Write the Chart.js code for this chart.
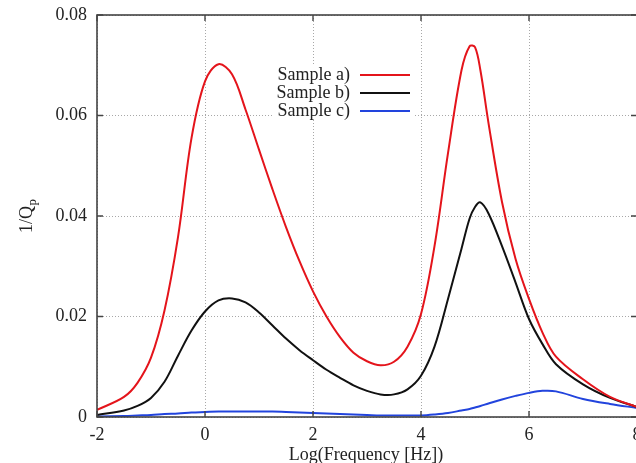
<!DOCTYPE html>
<html><head><meta charset="utf-8">
<script src="https://cdn.jsdelivr.net/npm/chart.js@4/dist/chart.umd.min.js"></script>
<style>
html,body{margin:0;padding:0;background:#fff;overflow:hidden;width:636px;height:463px}
#wrap{width:645px;height:463px}
</style></head>
<body><div id="wrap"><canvas id="c" width="645" height="463"></canvas></div>
<script>
// ---- data ----
const logFrequency = [-2,-1.5,-1.25,-1,-0.75,-0.5,-0.25,0,0.25,0.5,0.75,1,1.25,1.5,1.75,2,2.25,2.5,2.75,3,3.25,3.5,3.75,4,4.25,4.5,4.75,4.9,5,5.1,5.25,5.5,5.75,6,6.25,6.5,7,7.5,8];
const sampleA = [0.0014,0.0040,0.0068,0.0118,0.0212,0.0358,0.0555,0.0668,0.0702,0.0682,0.0612,0.0532,0.0453,0.0378,0.0310,0.0250,0.0200,0.0159,0.0128,0.0111,0.0103,0.0110,0.0140,0.0205,0.0340,0.0525,0.0690,0.0738,0.0736,0.0690,0.0585,0.0428,0.0315,0.0235,0.0168,0.0120,0.0075,0.0040,0.0020];
const sampleB = [0.0004,0.0013,0.0022,0.0038,0.0070,0.0122,0.0172,0.0210,0.0232,0.0236,0.0228,0.0208,0.0182,0.0156,0.0133,0.0113,0.0094,0.0078,0.0063,0.0052,0.0045,0.0045,0.0055,0.0082,0.0140,0.0235,0.0335,0.0395,0.0418,0.0427,0.0405,0.0340,0.0268,0.0195,0.0145,0.0105,0.0065,0.0038,0.0020];
const sampleC = [0.0001,0.0002,0.0003,0.0004,0.0006,0.0007,0.0009,0.0010,0.0011,0.0011,0.0011,0.0011,0.0011,0.0010,0.0009,0.0008,0.0007,0.0006,0.0005,0.0004,0.0003,0.0003,0.0003,0.0003,0.0005,0.0008,0.0013,0.0016,0.0019,0.0022,0.0027,0.0035,0.0042,0.0048,0.0052,0.0051,0.0036,0.0026,0.0018];
const seriesLabels = ['Sample a)','Sample b)','Sample c)'];
const seriesColors = ['#e4141b','#111111','#2244dd'];
const xTicks = [-2,0,2,4,6,8];
const yTicks = [0,0.02,0.04,0.06,0.08];
const xTitle = 'Log(Frequency [Hz])';
const yTitleMain = '1/Q';
const yTitleSub = 'p';

const FONT = "'Liberation Serif', 'Times New Roman', serif";
Chart.defaults.font.family = FONT;
Chart.defaults.font.size = 18;
Chart.defaults.color = '#222';

function pts(ys){ return logFrequency.map((x,i)=>({x:x,y:ys[i]})); }
const seriesValues = [sampleA, sampleB, sampleC];

const decor = {
  id:'decor',
  afterDraw(chart){
    const ctx = chart.ctx, a = chart.chartArea;
    const xs = chart.scales.x, ys = chart.scales.y;
    ctx.save();
    // legend box
    ctx.fillStyle = '#fff';
    ctx.fillRect(273, 65, 142, 53);
    ctx.font = '18px ' + FONT;
    ctx.textAlign = 'right';
    ctx.textBaseline = 'middle';
    chart.data.datasets.forEach((d,i)=>{
      const cy = 75 + i*18;
      ctx.fillStyle = '#222';
      ctx.fillText(d.label, 350, cy);
      ctx.strokeStyle = d.borderColor;
      ctx.lineWidth = 2;
      ctx.beginPath(); ctx.moveTo(360, cy); ctx.lineTo(410, cy); ctx.stroke();
    });
    // frame
    ctx.strokeStyle = '#444';
    ctx.lineWidth = 1.6;
    ctx.strokeRect(a.left, a.top, a.right - a.left, a.bottom - a.top);
    // inward tick marks
    ctx.lineWidth = 1.4;
    ctx.beginPath();
    xTicks.forEach(v=>{
      const px = xs.getPixelForValue(v);
      ctx.moveTo(px, a.bottom); ctx.lineTo(px, a.bottom - 6);
      ctx.moveTo(px, a.top); ctx.lineTo(px, a.top + 6);
    });
    yTicks.forEach(v=>{
      const py = ys.getPixelForValue(v);
      ctx.moveTo(a.left, py); ctx.lineTo(a.left + 6, py);
      ctx.moveTo(a.right, py); ctx.lineTo(a.right - 6, py);
    });
    ctx.stroke();
    // x title
    ctx.fillStyle = '#222';
    ctx.textAlign = 'center';
    ctx.textBaseline = 'alphabetic';
    ctx.font = '18px ' + FONT;
    ctx.fillText(xTitle, 366, 460);
    // y title with subscript
    ctx.translate(32, 233);
    ctx.rotate(-Math.PI/2);
    ctx.textAlign = 'left';
    ctx.fillText(yTitleMain, 0, 0);
    const w = ctx.measureText(yTitleMain).width;
    ctx.font = '13px ' + FONT;
    ctx.fillText(yTitleSub, w + 0.5, 4);
    ctx.restore();
  }
};

new Chart(document.getElementById('c'), {
  type:'line',
  data:{
    datasets: seriesValues.map((vals,i)=>({
      label: seriesLabels[i],
      data: pts(vals),
      borderColor: seriesColors[i],
      backgroundColor: seriesColors[i],
      borderWidth: 2,
      pointRadius: 0,
      fill: false,
      tension: 0.35
    }))
  },
  options:{
    responsive:false,
    animation:false,
    devicePixelRatio:1,
    layout:{padding:{left:0,top:15,right:8,bottom:0}},
    plugins:{legend:{display:false},tooltip:{enabled:false}},
    scales:{
      x:{
        type:'linear', min:-2, max:8,
        afterBuildTicks: s => { s.ticks = xTicks.map(v=>({value:v})); },
        afterFit: s => { s.height = 46; s.paddingLeft = 0; s.paddingRight = 0; },
        grid:{color:'#a8a8a8', lineWidth:1, drawTicks:false},
        border:{display:false, dash:[1,2]},
        ticks:{padding:7, maxRotation:0, autoSkip:false, color:'#222', font:{size:18}, callback:v=>String(v)}
      },
      y:{
        min:0, max:0.08,
        afterBuildTicks: s => { s.ticks = yTicks.map(v=>({value:v})); },
        afterFit: s => { s.width = 97; s.paddingTop = 0; s.paddingBottom = 0; },
        grid:{color:'#a8a8a8', lineWidth:1, drawTicks:false},
        border:{display:false, dash:[1,2]},
        ticks:{padding:10, color:'#222', font:{size:18}, callback:v=> v===0 ? '0' : v.toFixed(2)}
      }
    }
  },
  plugins:[decor]
});
</script>
</body></html>
